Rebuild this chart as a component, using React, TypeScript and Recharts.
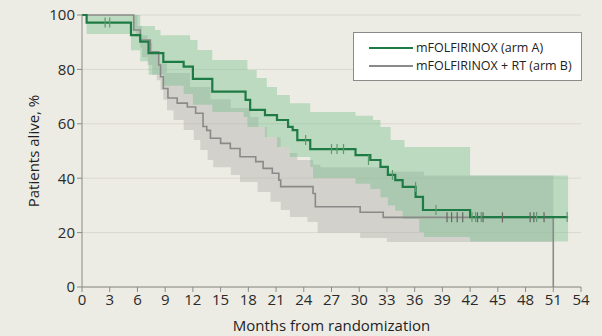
import { ComposedChart, Area, Line, Scatter, XAxis, YAxis, CartesianGrid } from 'recharts';

const BG = '#edece4';
const GREEN = '#1e7b45';
const GRAY = '#8a8a88';

const xTicks = [0, 3, 6, 9, 12, 15, 18, 21, 24, 27, 30, 33, 36, 39, 42, 45, 48, 51, 54];
const yTicks = [0, 20, 40, 60, 80, 100];

// arm A, Kaplan-Meier estimate (months, % alive)
const armAMonths = [0, 0.5, 5.3, 6.3, 7.2, 8.8, 11, 12, 14.1, 17.7, 18.2, 19.8, 21.1, 22.3, 22.8, 23.3, 24.7, 29.6, 31.2, 32.3, 33.1, 33.9, 34.7, 36.1, 36.9, 42, 52.6];
const armASurv = [100, 97.2, 92.6, 90.2, 86, 82.8, 81, 76.5, 71.8, 68.8, 65.1, 63.2, 61.4, 58.9, 57.7, 54, 50.7, 48.5, 46.7, 44.2, 41.2, 39.3, 36.8, 33.1, 28.3, 25.7, 25.7];

// arm B
const armBMonths = [0, 5.6, 6.3, 7.4, 8.3, 8.5, 8.8, 9.3, 10.3, 11.4, 12.3, 13.1, 13.5, 13.9, 15, 16.05, 17.1, 18.8, 19.6, 20.6, 21.3, 21.5, 25, 25.25, 30.1, 32.6, 51];
const armBSurv = [100, 94.5, 90.8, 86.5, 81.6, 77.3, 73, 69.5, 67.6, 66.2, 63.9, 59, 57.6, 54.7, 52.8, 50.9, 47.9, 46.1, 43.6, 41.8, 39.3, 36.9, 34.4, 29.5, 27.5, 25.6, 0];

// 95% CI bands
const ciAMonths = [0, 0.5, 5.3, 6.3, 7.2, 7.9, 8.5, 8.8, 11, 11.7, 12, 12.5, 14.1, 17.5, 17.9, 18.9, 19.8, 20, 21.1, 22.5, 24.7, 25, 29.6, 31.2, 31.5, 32.3, 33.1, 33.4, 33.9, 34.7, 34.9, 36.5, 37, 42, 52.6];
const ciALow = [100, 93, 87, 83, 78, 78, 78, 74, 71, 71, 67, 67, 64.3, 62.5, 58.8, 58.8, 55.1, 55.1, 51.5, 47.8, 44.1, 40.1, 38, 36, 36, 33, 30, 30, 28, 25, 25, 20.2, 18.4, 16.7, 16.7];
const ciAHigh = [100, 100, 100, 96, 96, 94.5, 92.6, 92.6, 92.6, 90.8, 90.8, 87.1, 83.5, 83.5, 79.8, 76.8, 76.8, 73.5, 70.6, 67.6, 64.3, 64.3, 63, 63, 61.4, 58.8, 58.8, 54, 54, 54, 51.5, 51.5, 51.5, 41, 41];

const ciBMonths = [0, 5.5, 5.8, 6.0, 6.3, 6.5, 7.1, 7.6, 8.1, 8.3, 8.5, 8.8, 9.2, 9.9, 11, 11.7, 12.1, 12.8, 13.6, 13.9, 14.2, 16.1, 17.1, 18.2, 19, 19.1, 20, 20.4, 21.5, 22.5, 23.3, 24.4, 25, 25.5, 25.8, 30.1, 33, 37, 51];
const ciBLow = [100, 94, 92, 92, 88, 84.5, 81.6, 78, 76, 76, 72.4, 68.8, 65, 61.4, 57.7, 57.7, 54, 50.4, 46.7, 46.7, 44, 41.2, 38.6, 38.6, 34.9, 34.9, 34.9, 31.3, 28.3, 25.7, 25.7, 23.9, 23.9, 19.9, 19.9, 18, 16.5, 16.5, 16.5];
const ciBHigh = [100, 100, 100, 96, 96, 92.6, 89.7, 86, 86, 82.3, 82.3, 82.3, 78.7, 78.7, 78.7, 73.5, 73.5, 73.5, 73.5, 69, 69, 65.8, 65.8, 62.5, 62.5, 58.8, 55.1, 55.1, 51.5, 49.3, 46.7, 46.7, 44.9, 44.9, 44, 44, 42.5, 41, 41];

// censored observations
const censorAMonths = [2.5, 3.0, 24.2, 27, 27.6, 28.3, 31, 33.6, 36.1, 38.3, 42.2, 42.6, 43.2, 49.2, 52.5];
const censorASurv = [97.2, 97.2, 54, 50.7, 50.7, 50.7, 46.7, 41.2, 36.8, 28.3, 25.7, 25.7, 25.7, 25.7, 25.7];
const censorBMonths = [39.5, 40, 40.6, 41.2, 42.8, 43.4, 45.5, 48.5, 48.9, 50];
const censorBSurv = [25.6, 25.6, 25.6, 25.6, 25.6, 25.6, 25.6, 25.6, 25.6, 25.6];

const pts = (xs: number[], ys: number[]) => xs.map((m, i) => ({ m, v: ys[i] }));
const band = (xs: number[], lo: number[], hi: number[]) => xs.map((m, i) => ({ m, range: [lo[i], hi[i]] }));

const armA = pts(armAMonths, armASurv);
const armB = pts(armBMonths, armBSurv);
const bandA = band(ciAMonths, ciALow, ciAHigh);
const bandB = band(ciBMonths, ciBLow, ciBHigh);
const censorA = pts(censorAMonths, censorASurv);
const censorB = pts(censorBMonths, censorBSurv);

const tickMark = (color: string) => (props: any) => {
  const { cx, cy } = props;
  return <line x1={cx} x2={cx} y1={cy - 5} y2={cy + 5} stroke={color} strokeWidth={1.2} />;
};

const FONT = '"Open Sans", sans-serif';

export default function App() {
  return (
    <div style={{ position: 'absolute', left: 0, top: 0, width: 602, height: 336, background: BG, fontFamily: FONT }}>
      <ComposedChart width={602} height={336} margin={{ top: 15, right: 21, bottom: 0, left: 0 }}>
        <CartesianGrid vertical={false} stroke="#d9d8d0" strokeWidth={1} />
        <XAxis
          dataKey="m"
          type="number"
          domain={[0, 54]}
          ticks={xTicks}
          interval={0}
          height={49}
          stroke="#8a8a88"
          tickSize={5}
          tick={{ fill: '#2a2a2a', fontSize: 15, fontFamily: FONT }}
          label={{ value: 'Months from randomization', position: 'insideBottom', offset: 5, fill: '#1e1e1e', fontSize: 15, fontFamily: FONT }}
        />
        <YAxis
          type="number"
          domain={[0, 100]}
          ticks={yTicks}
          interval={0}
          width={82}
          stroke="#8a8a88"
          tickSize={5}
          tick={{ fill: '#2a2a2a', fontSize: 15, fontFamily: FONT }}
          label={{
            content: () => (
              <text x={35} y={151} transform="rotate(-90 35 151)" textAnchor="middle" dominantBaseline="middle" fill="#1e1e1e" fontSize={15} fontFamily={FONT}>
                Patients alive, %
              </text>
            ),
          }}
        />
        <Area data={bandB} dataKey="range" type="stepAfter" stroke="none" fill="#b2b1ac" fillOpacity={0.45} isAnimationActive={false} />
        <Area data={bandA} dataKey="range" type="stepAfter" stroke="none" fill="#6dbd84" fillOpacity={0.38} isAnimationActive={false} />
        <Line data={armB} dataKey="v" type="stepAfter" stroke={GRAY} strokeWidth={1.6} dot={false} isAnimationActive={false} />
        <Line data={armA} dataKey="v" type="stepAfter" stroke={GREEN} strokeWidth={2.2} dot={false} isAnimationActive={false} />
        <Scatter data={censorB} dataKey="v" shape={tickMark('#666')} isAnimationActive={false} />
        <Scatter data={censorA} dataKey="v" shape={tickMark('#5f9a6c')} isAnimationActive={false} />
      </ComposedChart>
      <div
        style={{
          position: 'absolute',
          left: 353,
          top: 32,
          width: 227,
          height: 47,
          background: '#fff',
          border: '1px solid #8a8a88',
          fontSize: 12.5,
          color: '#222',
          boxSizing: 'content-box',
        }}
      >
        <div style={{ position: 'absolute', left: 15, top: 14, width: 44, height: 2.2, background: GREEN }} />
        <div style={{ position: 'absolute', left: 62, top: 6, lineHeight: '17px', whiteSpace: 'nowrap' }}>mFOLFIRINOX (arm A)</div>
        <div style={{ position: 'absolute', left: 15, top: 32, width: 44, height: 1.6, background: GRAY }} />
        <div style={{ position: 'absolute', left: 62, top: 24, lineHeight: '17px', whiteSpace: 'nowrap' }}>mFOLFIRINOX + RT (arm B)</div>
      </div>
    </div>
  );
}
